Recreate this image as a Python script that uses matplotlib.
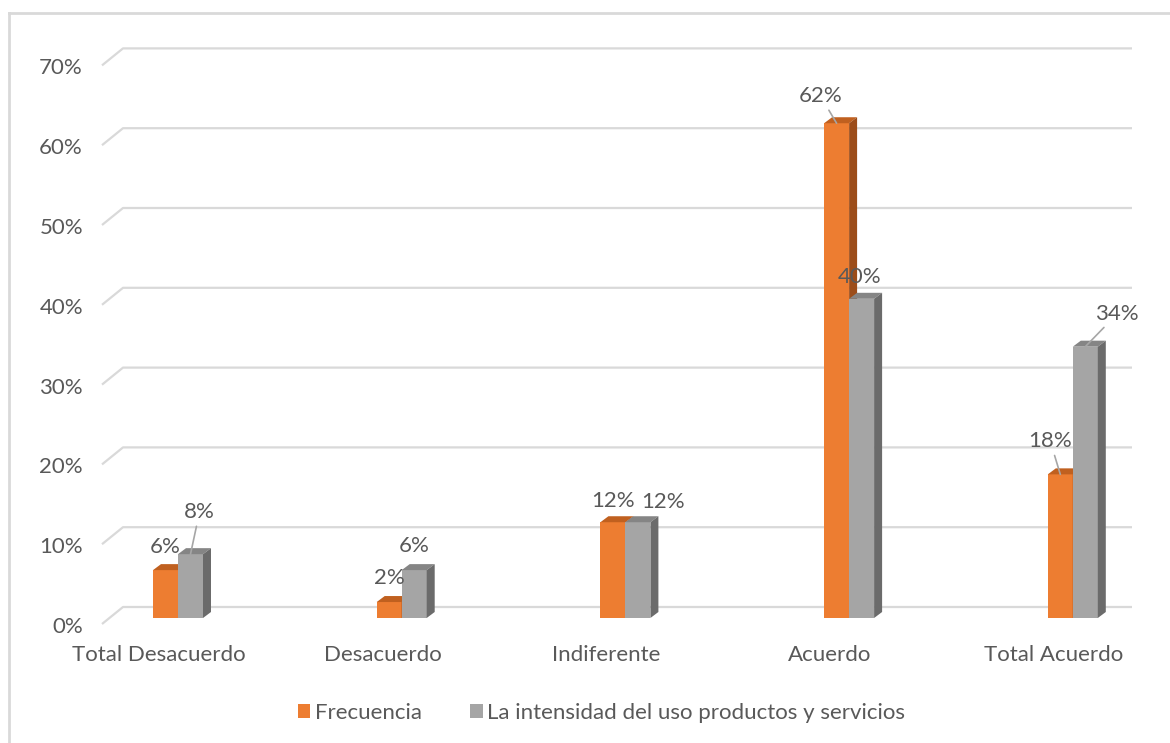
import matplotlib.pyplot as plt
from matplotlib.patches import Polygon, Rectangle, Patch
from matplotlib.lines import Line2D

plt.rcParams['font.family'] = ['Lato', 'DejaVu Sans']

categorias = ['Total Desacuerdo', 'Desacuerdo', 'Indiferente', 'Acuerdo', 'Total Acuerdo']
frecuencia = [6, 2, 12, 62, 18]
intensidad = [8, 6, 12, 40, 34]
series = ['Frecuencia', 'La intensidad del uso productos y servicios']
ticks = [0, 10, 20, 30, 40, 50, 60, 70]

# label offsets in pixels (dx, dy) from bar top, and whether a leader line is drawn
off_frec = [(0, 23, False), (0, 24, False), (0, 21, False), (-16, 27, True), (-10, 33, True)]
off_int = [(9, 42, True), (0, 24, False), (25, 20, False), (-2, 22, False), (32, 33, True)]

W, H = 1170, 743
px_cat = 223.7      # pixels per category step
px_pct = 7.98       # pixels per percent point
x0, y0 = 178, 125   # pixel position of category 0 at 0% (from bottom-left)

fig = plt.figure(figsize=(W / 100, H / 100), dpi=100)
ax = fig.add_axes([0, 0, 1, 1])
ax.set_xlim(-x0 / px_cat, (W - x0) / px_cat)
ax.set_ylim(-y0 / px_pct, (H - y0) / px_pct)
ax.axis('off')

def dx(p):
    return p / px_cat

def dy(p):
    return p / px_pct

txt = '#595959'
grid = '#D9D9D9'
fs = 16

# walls: oblique floor edge + back wall gridlines
x_front, x_back, x_right = dx(102 - x0), dx(123 - x0), dx(1132 - x0)
for t in ticks:
    ax.plot([x_front, x_back, x_right], [t - dy(6), t + dy(11), t + dy(11)],
            color=grid, lw=1.6, solid_capstyle='butt', zorder=1)
    ax.text(dx(83 - x0), t - dy(9), f'{t}%', ha='right', va='center',
            fontsize=fs, color=txt)

bw = dx(25)
sdx, sdy = dx(8), dy(6)

def bar3d(xl, h, front, top, side):
    ax.add_patch(Rectangle((xl, 0), bw, h, facecolor=front, edgecolor='none', zorder=3))
    ax.add_patch(Polygon([(xl, h), (xl + bw, h), (xl + bw + sdx, h + sdy), (xl + sdx, h + sdy)],
                         closed=True, facecolor=top, edgecolor='none', zorder=3))
    ax.add_patch(Polygon([(xl + bw, 0), (xl + bw + sdx, sdy), (xl + bw + sdx, h + sdy), (xl + bw, h)],
                         closed=True, facecolor=side, edgecolor='none', zorder=3))

def etiqueta(xc, h, off):
    ox, oy, leader = off
    kw = {}
    if leader:
        kw['arrowprops'] = dict(arrowstyle='-', color='#A6A6A6', lw=1.2, shrinkA=1, shrinkB=0)
    ax.annotate(f'{h}%', xy=(xc, h), xytext=(ox, oy), textcoords='offset pixels',
                ha='center', va='center', fontsize=fs, color=txt, zorder=5, **kw)

for i, h in enumerate(frecuencia):
    bar3d(i - bw, h, '#ED7D31', '#C0601F', '#9C4D1A')
for i, h in enumerate(intensidad):
    bar3d(i, h, '#A5A5A5', '#858585', '#6B6B6B')

for i, h in enumerate(frecuencia):
    etiqueta(i - bw / 2, h, off_frec[i])
for i, h in enumerate(intensidad):
    etiqueta(i + bw / 2, h, off_int[i])

for i, c in enumerate(categorias):
    ax.text(i - dx(19), dy(-37), c, ha='center', va='center', fontsize=fs, color=txt)

handles = [Patch(facecolor='#ED7D31'), Patch(facecolor='#A5A5A5')]
fig.legend(handles, series, loc='center', bbox_to_anchor=(601.5 / W, 30 / H), ncol=2,
           frameon=False, fontsize=fs, labelcolor=txt, handlelength=0.55, handleheight=0.55,
           handletextpad=0.2, columnspacing=2.2)

# chart frame
fig.add_artist(Line2D([9 / W, 9 / W], [0, (H - 13) / H], color=grid, lw=2))
fig.add_artist(Line2D([9 / W, 1], [(H - 13) / H, (H - 13) / H], color=grid, lw=2))

fig.savefig('out.png', dpi=100, facecolor='white')
